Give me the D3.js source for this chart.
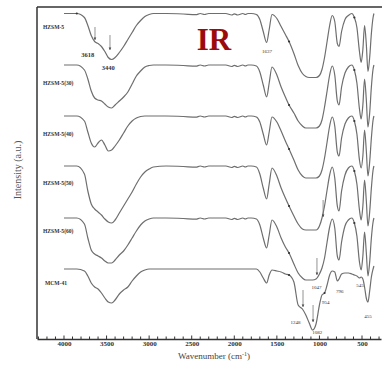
<!DOCTYPE html>
<html>
<head>
<meta charset="utf-8">
<script src="https://cdn.jsdelivr.net/npm/d3@7"></script>
<style>
  body { margin: 0; background: #fff; }
  text { font-family: "Liberation Serif", "DejaVu Serif", serif; }
</style>
</head>
<body>
<svg id="ir" width="382" height="367"></svg>
<script>
// wavenumbers (cm-1), shared by every spectrum
const wavenumbers = [4000, 3850, 3760, 3720, 3680, 3640, 3600, 3560, 3520, 3480, 3440, 3400, 3350, 3300, 3250, 3200, 3150, 3100, 3050, 3000, 2950,
  2800, 2600, 2450, 2400, 2350, 2300, 2100, 2030, 2000, 1960, 1900, 1870, 1840, 1800,
  1740, 1700, 1660, 1620, 1590, 1557, 1500, 1450, 1400, 1357, 1300, 1250, 1200, 1160, 1120, 1080, 1040, 1000,
  970, 940, 910, 880, 850, 820, 790, 770, 740, 700, 660, 620, 590, 560, 530, 510, 490, 470, 450, 430, 410, 390, 370, 360];

const samples = ["HZSM-5", "HZSM-5(30)", "HZSM-5(40)", "HZSM-5(50)", "HZSM-5(60)", "MCM-41"];
const offsets = [6.5, 58, 109, 159, 211, 262];   // stacking of the traces (a.u.)

// absorption depth below each trace's baseline (a.u.)
const hzsm5 = [0, 0, 4, 12, 22, 28, 30, 33, 38, 44, 46, 44, 39, 33, 26, 19, 12, 7, 3, 1, 0,
  0, 0.5, 1.2, 0, 1, 0, 0, 1.5, 0.3, 1.5, 0, 1, 0, 0,
  1, 6, 18, 29, 16, 1, 5, 13, 21, 28, 40, 52, 60, 63, 64, 64, 64, 62,
  56, 44, 28, 12, 2, 8, 30, 33, 18, 6, 2, 0, 4, 14, 38, 49, 36, 12, 30, 58, 44, 20, 4, 0];
const hzsm5_30 = [0, 0, 5, 14, 26, 33, 35, 36, 39, 42, 43, 40, 36, 32, 27, 19, 11, 6, 2, 0.5, 0,
  0, 0.5, 1.2, 0, 1, 0, 0, 1.5, 0.3, 1.5, 0, 1, 0, 0,
  1, 7, 20, 32, 18, 2, 10, 22, 32, 40, 48, 56, 61, 63, 63, 63, 63, 61,
  55, 42, 26, 10, 1, 10, 36, 40, 22, 8, 2, 0, 5, 18, 44, 54, 40, 14, 34, 62, 48, 22, 4, 0];
const hzsm5_40 = [0, 0, 5, 16, 27, 31, 27, 24, 29, 35, 34, 30, 24, 17, 10, 5, 2, 0.5, 0, 0, 0,
  0, 0.5, 1.2, 0, 1, 0, 0, 1.5, 0.3, 1.5, 0, 1, 0, 0,
  1, 6, 18, 29, 16, 1, 6, 15, 25, 33, 44, 54, 60, 62, 62, 62, 62, 60,
  54, 42, 26, 10, 1, 10, 36, 40, 22, 8, 2, 0, 5, 18, 44, 52, 40, 14, 34, 60, 46, 22, 4, 0];
const hzsm5_50 = [0, 0, 8, 25, 38, 43, 46, 49, 53, 56, 57, 54, 47, 40, 33, 26, 18, 11, 6, 3, 1,
  0, 0.5, 1.2, 0, 1, 0, 0, 1.5, 0.3, 1.5, 0, 1, 0, 0,
  1, 8, 22, 33, 18, 2, 10, 22, 32, 40, 50, 58, 63, 64, 64, 64, 64, 60,
  52, 40, 24, 9, 1, 12, 40, 45, 25, 9, 2, 0, 5, 18, 44, 54, 40, 14, 34, 60, 46, 22, 4, 0];
const hzsm5_60 = [0, 0, 6, 20, 32, 36, 38, 40, 43, 45, 45, 42, 37, 33, 27, 20, 13, 7, 3, 1, 0,
  0, 0.5, 1.2, 0, 1, 0, 0, 1.5, 0.3, 1.5, 0, 1, 0, 0,
  1, 7, 20, 30, 17, 2, 9, 20, 29, 35, 46, 55, 60, 62, 62, 62, 61, 56,
  50, 40, 24, 9, 1, 10, 38, 42, 24, 8, 2, 0, 5, 18, 44, 52, 38, 14, 34, 58, 44, 20, 4, 0];
const mcm41 = [0, 0, 2, 7, 14, 18, 20, 24, 29, 33, 34, 31, 25, 21, 18, 12, 7, 3, 1, 0, 0,
  0, 0, 0, 0, 0, 0, 0, 0, 0, 0, 0, 0, 0, 0,
  0, 3, 9, 14, 6, 1, 2, 3, 5, 6, 13, 36, 40, 46, 54, 61, 55, 36,
  26, 24, 16, 6, 2, 3, 12, 10, 5, 4, 4, 5, 6, 7, 9, 8, 10, 18, 29, 33, 22, 8, 0, -3];

const spectra = [hzsm5, hzsm5_30, hzsm5_40, hzsm5_50, hzsm5_60, mcm41];

const xTicks = [4000, 3500, 3000, 2500, 2000, 1500, 1000, 500];

// peak annotations: [label, wavenumber, level (a.u.)]
const peakLabels = [["3618", 3720, 50], ["3440", 3480, 63], ["1637", 1617, 46],
  ["1248", 1280, 317], ["1082", 1025, 327], ["954", 925, 297], ["796", 760, 286],
  ["545", 525, 280], ["455", 430, 311], ["1047", 1035, 282]];
// arrows: [wavenumber, from level, to level]
const arrows = [[3636, 20, 33], [3460, 28, 43], [1193, 283, 300], [1075, 298, 315], [1029, 251, 268], [957, 193, 210]];
// small dots on the traces: [sample index, wavenumber]
const dots = [[0, 3850], [0, 1357], [1, 1357], [2, 1357], [3, 1357], [4, 1357], [5, 1357], [5, 940],
  [0, 590], [1, 590], [2, 590], [3, 590], [4, 590]];

const W = 382, H = 367;
const margin = {left: 37, right: 1, top: 7, bottom: 28};

const x = d3.scaleLinear().domain([4317, 277]).range([margin.left, W - margin.right]);
const y = d3.scaleLinear().domain([0, 332]).range([margin.top, H - margin.bottom]);

const svg = d3.select("#ir");

// frame
svg.append("line").attr("x1", margin.left).attr("x2", W + 2).attr("y1", margin.top).attr("y2", margin.top)
  .attr("stroke", "#666").attr("stroke-width", 2);
svg.append("line").attr("x1", margin.left).attr("x2", margin.left).attr("y1", margin.top).attr("y2", H - margin.bottom)
  .attr("stroke", "#333").attr("stroke-width", 1.5);

// x axis
const xAxis = d3.axisBottom(x).tickValues(xTicks).tickSize(0).tickPadding(2).tickFormat(d3.format("d"));
const gx = svg.append("g").attr("transform", `translate(0,${H - margin.bottom})`).call(xAxis);
gx.select(".domain").attr("stroke", "#333").attr("stroke-width", 1.5);
gx.selectAll("text").attr("font-size", 7).attr("font-weight", "bold").attr("fill", "#333")
  .attr("font-family", "Liberation Serif");
gx.selectAll(".minor").data(d3.range(300, 4301, 100)).enter().append("line")
  .attr("x1", d => x(d)).attr("x2", d => x(d)).attr("y1", 0).attr("y2", d => d % 500 === 0 ? -3.5 : -2.5)
  .attr("stroke", "#333").attr("stroke-width", 1);

const xTitle = svg.append("text").attr("x", 214).attr("y", 359).attr("text-anchor", "middle")
  .attr("font-size", 9).attr("fill", "#444");
xTitle.append("tspan").text("Wavenumber (cm");
xTitle.append("tspan").attr("dy", -3).attr("font-size", 6).text("-1");
xTitle.append("tspan").attr("dy", 3).text(")");

svg.append("text").attr("transform", "translate(21,170) rotate(-90)").attr("text-anchor", "middle")
  .attr("font-size", 10).attr("fill", "#555").text("Intensity (a.u.)");

// traces
const line = d3.line().x(d => x(d[0])).y(d => y(d[1])).curve(d3.curveMonotoneX);
spectra.forEach((s, i) => {
  const pts = wavenumbers.map((w, k) => [w, offsets[i] + s[k]]);
  svg.append("path").attr("d", line(pts)).attr("fill", "none")
    .attr("stroke", "#6e6e6e").attr("stroke-width", 1.2);
});

// dots on traces
svg.selectAll(".dot").data(dots).enter().append("circle")
  .attr("cx", d => x(d[1]))
  .attr("cy", d => y(offsets[d[0]] + spectra[d[0]][wavenumbers.indexOf(d[1])]))
  .attr("r", 1.1).attr("fill", "#333");

// sample labels
const labelLevels = [22, 78, 129, 178, 226, 278];
svg.selectAll(".lab").data(samples).enter().append("text")
  .attr("x", (d, i) => i === 5 ? 45 : 43).attr("y", (d, i) => y(labelLevels[i]))
  .attr("font-size", 5.6).attr("font-weight", "bold").attr("fill", "#333").text(d => d);

// arrows
svg.selectAll(".arr").data(arrows).enter().append("line")
  .attr("x1", d => x(d[0])).attr("x2", d => x(d[0]))
  .attr("y1", d => y(d[1])).attr("y2", d => y(d[2]))
  .attr("stroke", "#777").attr("stroke-width", 0.8);
svg.selectAll(".arrh").data(arrows).enter().append("path")
  .attr("d", d => `M${x(d[0]) - 1.3},${y(d[2]) - 2.5} L${x(d[0]) + 1.3},${y(d[2]) - 2.5} L${x(d[0])},${y(d[2])} Z`)
  .attr("fill", "#444");

// peak labels
svg.selectAll(".pk").data(peakLabels).enter().append("text")
  .attr("x", d => x(d[1])).attr("y", d => y(d[2])).attr("text-anchor", "middle")
  .attr("font-size", d => d[2] < 70 && d[0] !== "1637" ? 6.5 : 5)
  .attr("font-weight", d => d[2] < 70 && d[0] !== "1637" ? "bold" : "normal")
  .attr("fill", "#333").text(d => d[0]);

// big title
svg.append("text").attr("x", 214).attr("y", 50).attr("text-anchor", "middle")
  .attr("font-size", 31).attr("font-weight", "bold").attr("fill", "#9c0b0b").text("IR");
</script>
</body>
</html>
